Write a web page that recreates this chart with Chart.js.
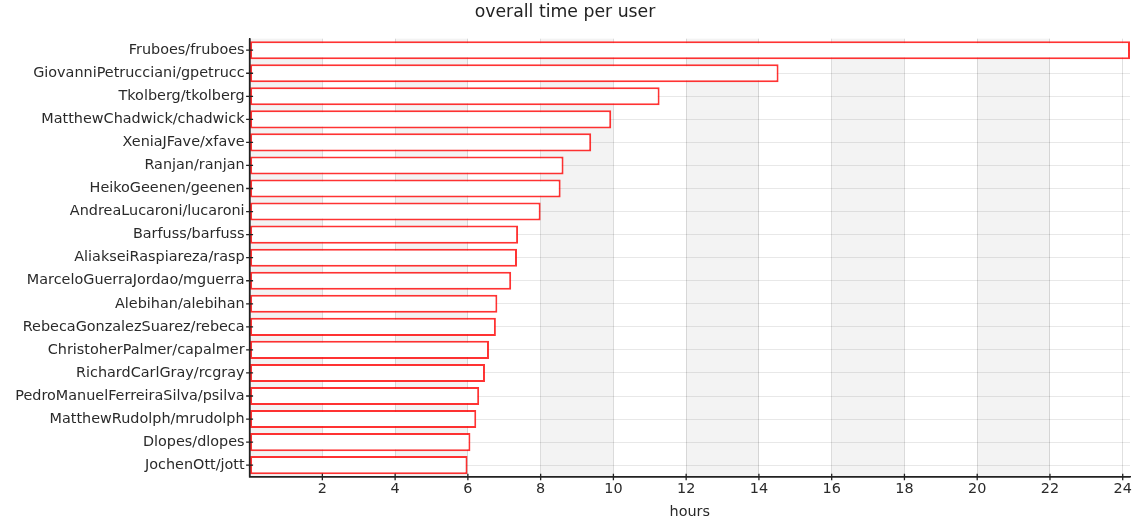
<!DOCTYPE html>
<html>
<head>
<meta charset="utf-8">
<title>overall time per user</title>
<script src="https://cdn.jsdelivr.net/npm/chart.js@4.4.1/dist/chart.umd.min.js"></script>
<style>
  html, body { margin: 0; padding: 0; background: #fff; }
  #wrap { width: 1140px; height: 519px; }
</style>
</head>
<body>
<div id="wrap"><canvas id="chart" width="1140" height="519"></canvas></div>
<script>
// Users, ordered from most to least time spent
const users = [
  'Fruboes/fruboes',
  'GiovanniPetrucciani/gpetrucc',
  'Tkolberg/tkolberg',
  'MatthewChadwick/chadwick',
  'XeniaJFave/xfave',
  'Ranjan/ranjan',
  'HeikoGeenen/geenen',
  'AndreaLucaroni/lucaroni',
  'Barfuss/barfuss',
  'AliakseiRaspiareza/rasp',
  'MarceloGuerraJordao/mguerra',
  'Alebihan/alebihan',
  'RebecaGonzalezSuarez/rebeca',
  'ChristoherPalmer/capalmer',
  'RichardCarlGray/rcgray',
  'PedroManuelFerreiraSilva/psilva',
  'MatthewRudolph/mrudolph',
  'Dlopes/dlopes',
  'JochenOtt/jott'
];

// Total hours per user
const hours = [
  24.2, 14.54, 11.27, 9.94, 9.39, 8.63, 8.55, 8.0, 7.38, 7.35,
  7.19, 6.81, 6.77, 6.58, 6.47, 6.31, 6.23, 6.07, 5.99
];

// Hour axis tick spacing
const hourTickStep = 2;

const chartTitle = 'overall time per user';
const hourAxisTitle = 'hours';

Chart.defaults.font.family = "'DejaVu Sans', sans-serif";

const textColor = '#2a2a2a';
const axisColor = '#222';

// White background plus alternating grey bands between every other hour tick
const backdrop = {
  id: 'backdrop',
  beforeDraw(chart) {
    const { ctx, chartArea: a, scales: { x } } = chart;
    ctx.save();
    ctx.fillStyle = '#fff';
    ctx.fillRect(0, 0, chart.width, chart.height);
    ctx.fillStyle = '#f3f3f3';
    const t = x.ticks;
    for (let i = 0; i + 1 < t.length; i += 2) {
      const x0 = x.getPixelForValue(t[i].value);
      const x1 = x.getPixelForValue(t[i + 1].value);
      ctx.fillRect(x0, a.top, x1 - x0, a.bottom - a.top);
    }
    ctx.restore();
  }
};

// Axis lines on top of the bars, with small tick marks crossing them
const axisOverlay = {
  id: 'axisOverlay',
  afterDatasetsDraw(chart) {
    const { ctx, chartArea: a, scales: { x, y } } = chart;
    ctx.save();
    ctx.strokeStyle = axisColor;
    ctx.lineWidth = 1.5;
    ctx.beginPath();
    ctx.moveTo(a.left, a.top);
    ctx.lineTo(a.left, a.bottom);
    ctx.lineTo(a.right, a.bottom);
    ctx.stroke();
    ctx.lineWidth = 1.3;
    ctx.beginPath();
    y.ticks.forEach((_, i) => {
      const py = y.getPixelForTick(i);
      ctx.moveTo(a.left - 3.5, py);
      ctx.lineTo(a.left + 3.5, py);
    });
    x.ticks.forEach((t, i) => {
      if (t.value === 0) return;
      const px = x.getPixelForTick(i);
      ctx.moveTo(px, a.bottom - 3);
      ctx.lineTo(px, a.bottom + 3.5);
    });
    ctx.stroke();
    ctx.restore();
  }
};

new Chart(document.getElementById('chart'), {
  type: 'bar',
  data: {
    labels: users,
    datasets: [{
      data: hours,
      backgroundColor: '#ffffff',
      borderColor: 'rgba(255, 0, 0, 0.8)',
      borderWidth: 2,
      borderSkipped: false,
      barPercentage: 0.785,
      categoryPercentage: 1.0
    }]
  },
  options: {
    indexAxis: 'y',
    responsive: false,
    animation: false,
    devicePixelRatio: 1,
    layout: { padding: { left: 0, right: 10, top: 0, bottom: 0 } },
    plugins: {
      legend: { display: false },
      tooltip: { enabled: false },
      title: {
        display: true,
        text: chartTitle,
        color: '#222',
        font: { size: 17.3, weight: 'normal', lineHeight: 1.2 },
        padding: { top: 1.9, bottom: 16 }
      }
    },
    scales: {
      x: {
        type: 'linear',
        min: 0,
        max: Math.max(...hours),
        ticks: {
          stepSize: hourTickStep,
          includeBounds: false,
          padding: 4,
          color: textColor,
          font: { size: 14.4 },
          callback: (v) => (v === 0 ? '' : v)
        },
        grid: { color: 'rgba(0,0,0,0.12)', drawTicks: false, lineWidth: 1 },
        border: { color: axisColor, width: 1.5 },
        title: {
          display: true,
          text: hourAxisTitle,
          color: textColor,
          font: { size: 14.4, lineHeight: 1 },
          padding: { top: 0, bottom: 0 }
        },
        afterFit(scale) { scale.height = 42.3; }
      },
      y: {
        type: 'category',
        grid: { offset: false, color: 'rgba(0,0,0,0.09)', drawTicks: false, lineWidth: 1 },
        border: { color: axisColor, width: 1.5 },
        ticks: {
          padding: 5,
          color: textColor,
          autoSkip: false,
          font: { size: 14.4 }
        },
        afterFit(scale) { scale.width = 249.6; }
      }
    }
  },
  plugins: [backdrop, axisOverlay]
});
</script>
</body>
</html>
